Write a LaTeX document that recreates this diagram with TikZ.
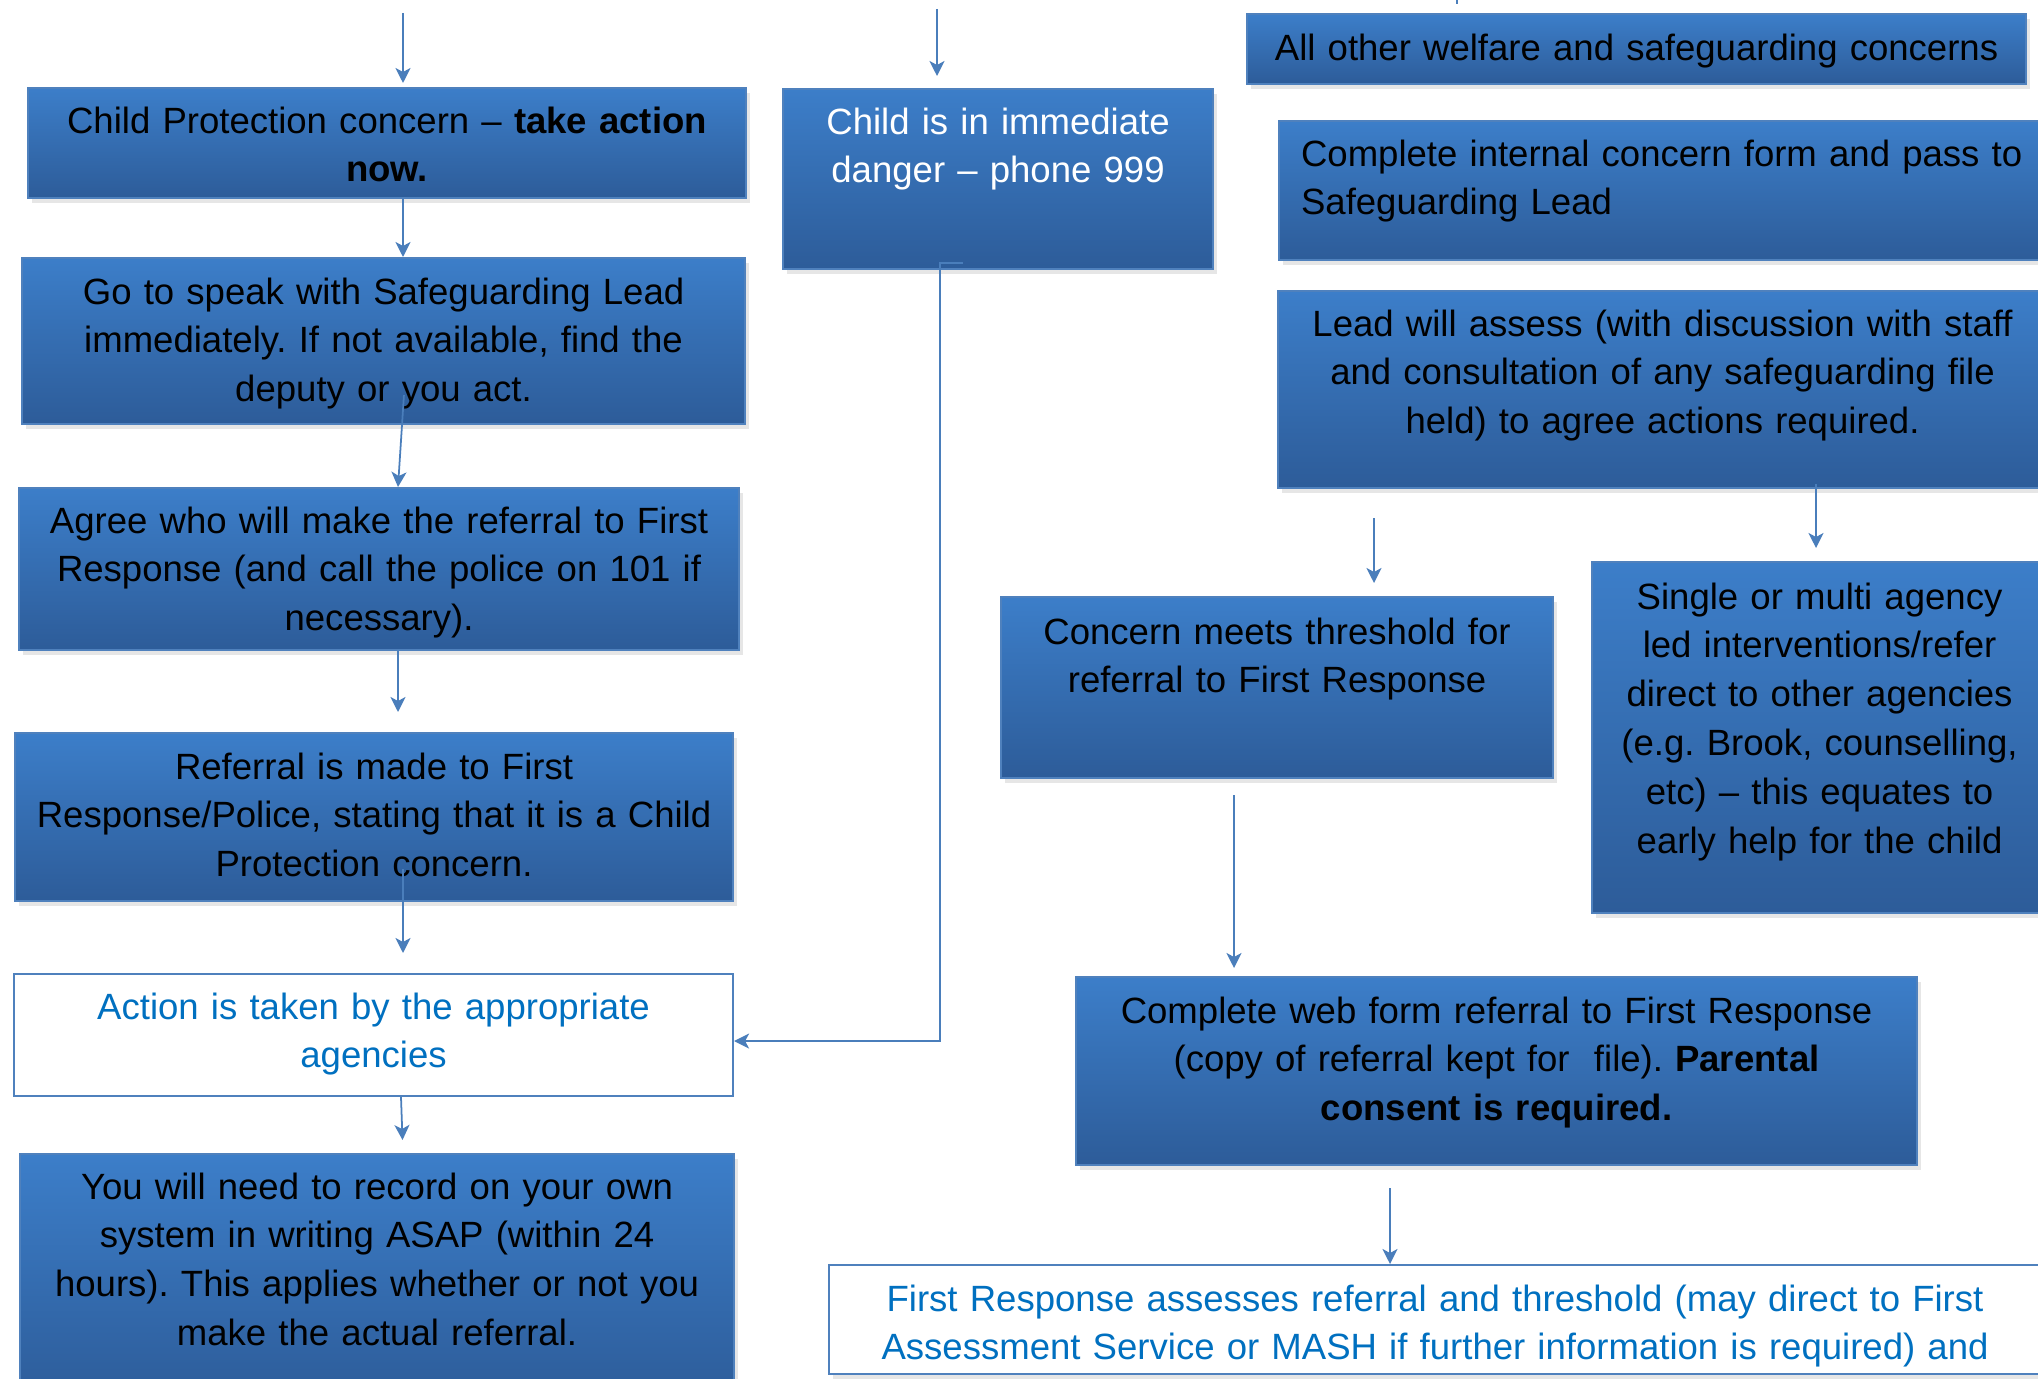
\documentclass[tikz,border=0pt]{standalone}
\usepackage{fontspec}
\setmainfont{Liberation Sans}
\usetikzlibrary{arrows.meta, shadows}
\frenchspacing

\definecolor{boxtop}{RGB}{60,126,201}
\definecolor{boxbot}{RGB}{45,92,153}
\definecolor{edge}{RGB}{79,129,189}
\definecolor{wire}{RGB}{74,126,187}
\definecolor{bluetext}{RGB}{0,112,192}

\begin{document}
\begin{tikzpicture}
	[x=0.1mm, y=-0.1mm,%
	box/.style  ={rectangle,	draw=edge,	line width=0.6pt,	top color=boxtop,	bottom color=boxbot,	inner sep=0pt,	anchor=north west,	align=center,	font=\fontsize{10.4}{13.9}\selectfont,	drop shadow={opacity=0.2, shadow xshift=0.4mm, shadow yshift=-0.5mm}},%
	plain/.style={rectangle,	draw=edge,	line width=0.6pt,	fill=white,	text=bluetext,	inner sep=0pt,	anchor=north west,	align=center,	font=\fontsize{10.4}{13.9}\selectfont},%
	sized/.style n args={3}{text width=#1, text height=#2, text depth=#3},%
	link/.style ={draw=wire,	line width=0.5pt,	-{Stealth[length=1.5mm, width=1.5mm, inset=0.4mm]}},%
	]
	\useasboundingbox (0,0) rectangle (2038,1379);
	\clip (0,0) rectangle (2038,1379);

	% nodes, left column
	\node (cp)       at (27,87)   [box, sized={71.8mm}{4.5mm}{6.5mm}]  {Child Protection concern -- \textbf{take action}\\\textbf{now.}};
	\node (speak)    at (21,257)  [box, sized={72.3mm}{4.6mm}{12.0mm}] {Go to speak with Safeguarding Lead\\immediately. If not available, find the\\deputy or you act.};
	\node (agree)    at (18,487)  [box, sized={72.0mm}{4.5mm}{11.7mm}] {Agree who will make the referral to First\\Response (and call the police on 101 if\\necessary).};
	\node (referral) at (14,732)  [box, sized={71.8mm}{4.6mm}{12.2mm}] {Referral is made to First\\Response/Police, stating that it is a Child\\Protection concern.};
	\node (action)   at (13,973)  [plain, sized={71.9mm}{4.5mm}{7.7mm}] {Action is taken by the appropriate\\agencies};
	\node (record)   at (19,1153) [box, sized={71.4mm}{4.5mm}{20.2mm}] {You will need to record on your own\\system in writing ASAP (within 24\\hours). This applies whether or not you\\make the actual referral.};

	% nodes, middle column
	\node (danger)   at (782,88)  [box, text=white, sized={43.0mm}{4.5mm}{13.5mm}] {Child is in immediate\\danger -- phone 999};

	% nodes, right column
	\node (other)    at (1246,13)  [box, sized={77.9mm}{4.6mm}{2.4mm}]  {All other welfare and safeguarding concerns};
	\node (internal) at (1278,120) [box, align=left, inner xsep=2.2mm, sized={77.8mm}{4.5mm}{9.4mm}] {Complete internal concern form and pass to\\Safeguarding Lead};
	\node (lead)     at (1277,290) [box, sized={76.9mm}{4.5mm}{15.2mm}] {Lead will assess (with discussion with staff\\and consultation of any safeguarding file\\held) to agree actions required.};
	\node (meets)    at (1000,596) [box, sized={55.2mm}{4.7mm}{13.4mm}] {Concern meets threshold for\\referral to First Response};
	\node (single)   at (1591,561) [box, sized={45.5mm}{4.7mm}{30.4mm}] {Single or multi agency\\led interventions/refer\\direct to other agencies\\(e.g. Brook, counselling,\\etc) -- this equates to\\early help for the child};
	\node (webform)  at (1075,976) [box, sized={84.1mm}{4.6mm}{14.2mm}] {Complete web form referral to First Response\\(copy of referral kept for~ file). \textbf{Parental}\\\textbf{consent is required.}};
	\node (assess)   at (828,1264) [plain, drop shadow={opacity=0.2, shadow xshift=0.4mm, shadow yshift=-0.5mm}, sized={121.2mm}{4.6mm}{6.3mm}] {First Response assesses referral and threshold (may direct to First\\Assessment Service or MASH if further information is required) and};

	% free ends
	\coordinate (topL) at (403,13);
	\coordinate (topM) at (937,9);
	\coordinate (topR) at (1457,0);
	\coordinate (dangerout) at (963,263);

	% interconnections, left column
	\draw [link, shorten >=0.4mm] (topL) to (topL |- cp.north);
	\draw [link] (topL |- cp.south) to (topL |- speak.north);
	\draw [link, shorten <=-3mm] (speak.south -| 402,0) to (agree.north -| 398,0);
	\draw [link, shorten >=2mm] (agree.south -| 398,0) to (referral.north -| 398,0);
	\draw [link, shorten <=-3.3mm, shorten >=2mm] (referral.south -| 403,0) to (action.north -| 403,0);
	\draw [link, shorten >=1.3mm] (action.south -| 401,0) to (record.north -| 403,0);

	% interconnections, middle column
	\draw [link, shorten >=1.2mm] (topM) to (topM |- danger.north);
	\draw [link] (dangerout) -- ++(-23,0) |- ([yshift=-0.6mm]action.east);

	% interconnections, right column
	\draw [draw=wire, line width=0.5pt] (topR) -- ++(0,4);
	\draw [link, shorten <=-0.5mm, shorten >=1.3mm] (lead.south -| 1816,0) to (single.north -| 1816,0);
	\draw [link, shorten <=2.9mm, shorten >=1.3mm] (lead.south -| 1374,0) to (meets.north -| 1374,0);
	\draw [link, shorten <=1.6mm, shorten >=0.8mm] (meets.south -| 1234,0) to (webform.north -| 1234,0);
	\draw [link, shorten <=2.2mm] (webform.south -| 1390,0) to (assess.north -| 1390,0);

\end{tikzpicture}
\end{document}
